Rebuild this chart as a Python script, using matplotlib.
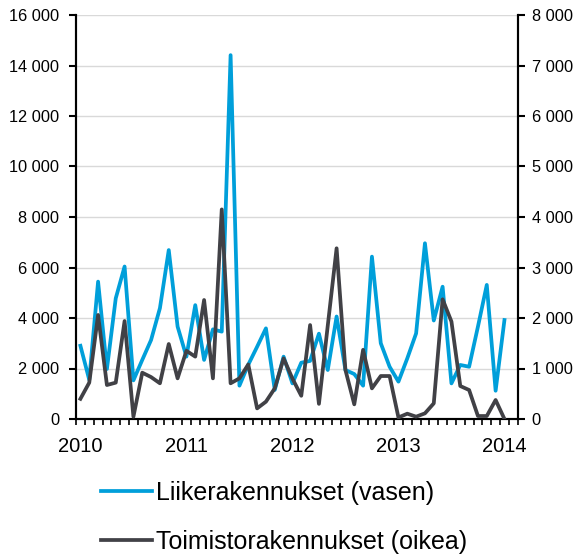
import numpy as np
import matplotlib
matplotlib.use('Agg')
import matplotlib.pyplot as plt
from matplotlib.ticker import FuncFormatter, FixedLocator

plt.rcParams['font.family'] = ['Liberation Sans', 'DejaVu Sans']

# monthly values, Jan 2010 .. Jan 2014
liike = [2900, 1550, 5440, 1980, 4780, 6040, 1530, 2340, 3130, 4390,
         6690, 3660, 2470, 4510, 2340, 3550, 3460, 14410, 1320, 2150,
         2860, 3590, 1150, 2470, 1410, 2230, 2300, 3380, 1940, 4060,
         1940, 1780, 1320, 6430, 3000, 2070, 1480, 2400, 3390, 6960,
         3900, 5240, 1410, 2140, 2070, 3660, 5310, 1120, 3920]
toimisto = [400, 720, 2060, 673, 720, 1940, 46, 917, 830, 707,
            1485, 805, 1350, 1235, 2356, 805, 4150, 707, 805, 1080,
            210, 343, 607, 1200, 800, 460, 1860, 300, 1850, 3380,
            970, 290, 1370, 607, 851, 851, 30, 105, 46, 112,
            310, 2370, 1930, 653, 574, 59, 59, 376, 0]
years = ['2010', '2011', '2012', '2013', '2014']

blue = '#009fda'
dark = '#414146'

x = np.arange(len(liike))

fig = plt.figure(figsize=(5.73, 5.55), dpi=100)
ax = fig.add_axes([76 / 573, 1 - 419 / 555, (517.7 - 76) / 573, (419 - 15) / 555])
ax2 = ax.twinx()

ax.plot(x, liike, color=blue, lw=2.7, label='Liikerakennukset (vasen)', zorder=3)
ax2.plot(x, toimisto, color=dark, lw=2.7, label='Toimistorakennukset (oikea)', zorder=3)

fmt = FuncFormatter(lambda v, p: '{:,.0f}'.format(v).replace(',', ' '))

ax.set_ylim(0, 16000)
ax.set_yticks(np.arange(0, 16001, 2000))
ax.yaxis.set_major_formatter(fmt)
ax2.set_ylim(0, 8000)
ax2.set_yticks(np.arange(0, 8001, 1000))
ax2.yaxis.set_major_formatter(fmt)

ax.set_xlim(-0.5, 49.5)
ax.xaxis.set_major_locator(FixedLocator([0, 12, 24, 36, 48]))
ax.set_xticklabels(years, fontsize=14.5)
ax.xaxis.set_minor_locator(FixedLocator(np.arange(-0.5, 50, 1)))
ax.tick_params(axis='x', which='major', length=0, pad=13)
ax.tick_params(axis='x', which='minor', length=4, width=1.2, direction='out')

ax.tick_params(axis='y', labelsize=11.8, length=5, width=1.5, pad=7)
ax2.tick_params(axis='y', labelsize=11.8, length=5, width=1.5, pad=5)

ax.grid(axis='y', color='#d9d9d9', lw=1)
ax.set_axisbelow(True)

for a in (ax, ax2):
    a.spines['top'].set_visible(False)
    for s in ('left', 'right', 'bottom'):
        a.spines[s].set_linewidth(1.5)
        a.spines[s].set_color('black')

h1, l1 = ax.get_legend_handles_labels()
h2, l2 = ax2.get_legend_handles_labels()
fig.legend(h1 + h2, l1 + l2, loc='upper left', bbox_to_anchor=(101 / 573, 1 - 481 / 555),
           frameon=False, fontsize=18, handlelength=2.05, handletextpad=0.15,
           labelspacing=0.98, borderpad=0, borderaxespad=0)

fig.savefig('out.png', dpi=100)
